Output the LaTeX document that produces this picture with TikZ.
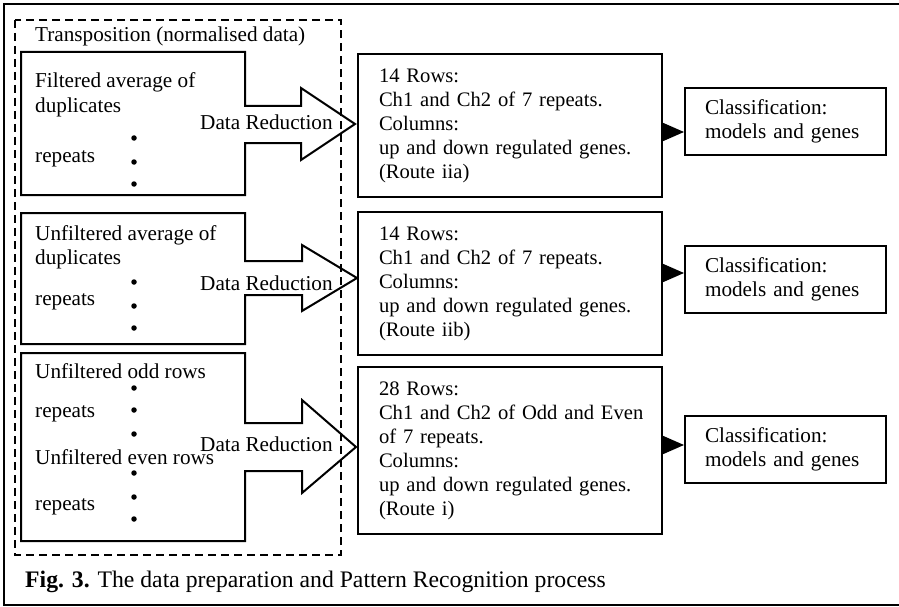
\documentclass[tikz,border=0pt]{standalone}
\usepackage{fontspec}
\setmainfont{Liberation Serif}
\usetikzlibrary{arrows.meta}
\begin{document}
\begin{tikzpicture}[x=1pt,y=-1pt,
  every node/.style={font=\fontsize{21.2}{24}\selectfont},
  txt/.style={anchor=base west,inner sep=0pt},
  shapeline/.style={draw=black,line width=2pt,line join=miter},
  midbox/.style={draw=black,line width=2pt,align=left,text width=262pt,inner xsep=21pt,inner ysep=0pt,anchor=north west,font=\fontsize{20.6}{24}\selectfont},
  clsbox/.style={draw=black,line width=2pt,align=left,text width=161pt,inner xsep=20pt,inner ysep=0pt,anchor=north west,minimum height=67pt},
  dotm/.style={circle,fill=black,inner sep=0pt,minimum size=5.5pt},
  link/.style={line width=1.5pt,-{Triangle[length=21pt,width=18pt]}}
]
\clip (0,0) rectangle (899,607);
\fill[white] (0,0) rectangle (899,607);
% outer frame
\draw[line width=2.5pt] (910,4) -- (4,4) -- (4,605) -- (910,605);
% dashed group
\draw[line width=2.2pt,dash pattern=on 8pt off 5pt] (15,20) rectangle (341,555);
\node[txt] (title) at (35,42) {Transposition (normalised data)};
% box + block arrows
\draw[shapeline] (245,106) -- (245,52) -- (21,52) -- (21,195) -- (245,195) -- (245,143) -- (301,143) -- (301,160) -- (355,124) -- (301,88) -- (301,106) -- cycle;
\draw[shapeline] (245,261) -- (245,213) -- (21,213) -- (21,344) -- (245,344) -- (245,295) -- (302,295) -- (302,311) -- (357,278) -- (302,245) -- (302,261) -- cycle;
\draw[shapeline] (245,423) -- (245,353) -- (21,353) -- (21,541) -- (245,541) -- (245,471) -- (302,471) -- (302,493) -- (356,447) -- (302,400) -- (302,423) -- cycle;
% box 1 texts
\node[txt] (f1) at (35,88) {Filtered average of};
\node[txt] (f2) at (35,113) {duplicates};
\node[txt] (f3) at (35,162) {repeats};
\node[txt] (dr1) at (200,130) {Data Reduction};
\node[dotm] (d11) at (134,138) {};
\node[dotm] (d12) at (134,162) {};
\node[dotm] (d13) at (134,184) {};
% box 2 texts
\node[txt] (u1) at (35,240) {Unfiltered average of};
\node[txt] (u2) at (35,264) {duplicates};
\node[txt] (u3) at (35,305) {repeats};
\node[txt] (dr2) at (200,290) {Data Reduction};
\node[dotm] (d21) at (134,282) {};
\node[dotm] (d22) at (134,306) {};
\node[dotm] (d23) at (134,328) {};
% box 3 texts
\node[txt] (o1) at (35,378) {Unfiltered odd rows};
\node[txt] (o2) at (35,417) {repeats};
\node[txt] (dr3) at (200,451) {Data Reduction};
\node[txt] (e1) at (35,464) {Unfiltered even rows};
\node[txt] (e2) at (35,510) {repeats};
\node[dotm] (d31) at (134,388) {};
\node[dotm] (d32) at (134,410) {};
\node[dotm] (d33) at (134,434) {};
\node[dotm] (d41) at (134,473) {};
\node[dotm] (d42) at (134,497) {};
\node[dotm] (d43) at (134,519) {};
% middle boxes
\node[midbox,minimum height=143pt] (m1) at (357,53) {14 Rows:\\Ch1 and Ch2 of 7 repeats.\\Columns:\\up and down regulated genes.\\(Route iia)};
\node[midbox,minimum height=143pt] (m2) at (357,211) {14 Rows:\\Ch1 and Ch2 of 7 repeats.\\Columns:\\up and down regulated genes.\\(Route iib)};
\node[midbox,minimum height=167pt] (m3) at (357,366) {28 Rows:\\\mbox{Ch1 and Ch2 of Odd and Even}\\of 7 repeats.\\Columns:\\up and down regulated genes.\\(Route i)};
% classification boxes
\node[clsbox] (c1) at (684,87) {Classification:\\models and genes};
\node[clsbox] (c2) at (684,245) {Classification:\\models and genes};
\node[clsbox] (c3) at (684,415) {Classification:\\models and genes};
\coordinate (a1) at (0,132);
\coordinate (a2) at (0,273);
\coordinate (a3) at (0,445);
\draw[link] (m1.east |- a1) -- (c1.west |- a1);
\draw[link] (m2.east |- a2) -- (c2.west |- a2);
\draw[link] (m3.east |- a3) -- (c3.west |- a3);
% caption
\node[txt,font=\fontsize{23.7}{26}\selectfont] (cap) at (25,587) {\textbf{Fig. 3.} The data preparation and Pattern Recognition process};
\end{tikzpicture}
\end{document}
